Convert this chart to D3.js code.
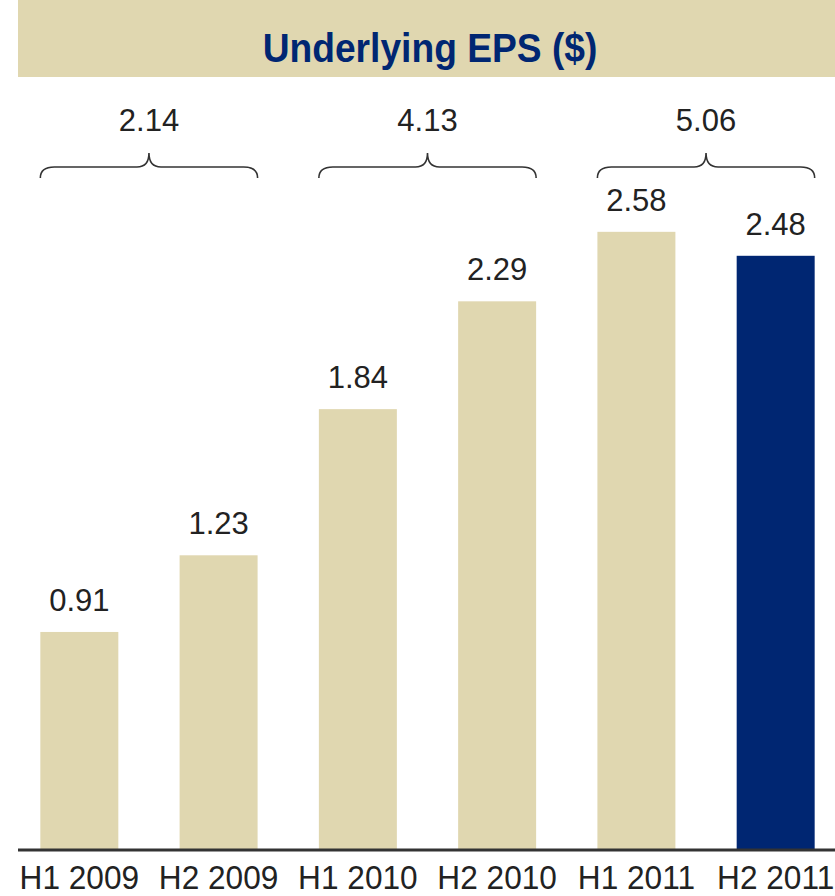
<!DOCTYPE html>
<html>
<head>
<meta charset="utf-8">
<script src="https://cdn.jsdelivr.net/npm/d3@7"></script>
<style>
  html, body { margin: 0; padding: 0; background: #fff; }
  svg { display: block; }
</style>
</head>
<body>
<script>
// Half-year underlying EPS
const categories = ["H1 2009", "H2 2009", "H1 2010", "H2 2010", "H1 2011", "H2 2011"];
const eps = [0.91, 1.23, 1.84, 2.29, 2.58, 2.48];
const highlighted = ["H2 2011"];
// Full-year totals spanning pairs of halves
const yearGroups = [
  { first: "H1 2009", last: "H2 2009", total: "2.14" },
  { first: "H1 2010", last: "H2 2010", total: "4.13" },
  { first: "H1 2011", last: "H2 2011", total: "5.06" }
];
const title = "Underlying EPS ($)";

const W = 835, H = 896;
const tan = "#e0d7b0", navy = "#002672", ink = "#222222";
const baseY = 850;
const font = "Liberation Sans, Arial, sans-serif";

const svg = d3.select("body").append("svg")
  .attr("width", W).attr("height", H);

// Title banner
svg.append("rect")
  .attr("x", 18).attr("y", 0).attr("width", W - 18).attr("height", 77)
  .attr("fill", tan);
svg.append("text")
  .attr("transform", "translate(430,62) scale(0.93,1)")
  .attr("text-anchor", "middle")
  .attr("font-family", font)
  .attr("font-weight", "bold")
  .attr("font-size", 40)
  .attr("fill", navy)
  .text(title);

const x = d3.scaleBand()
  .domain(categories)
  .range([20, W])
  .paddingInner(0.44)
  .paddingOuter(0.146);

const y = d3.scaleLinear()
  .domain([0, baseY / 239.6])
  .range([baseY, 0]);

const data = categories.map((c, i) => ({ cat: c, v: eps[i] }));

// Bars
svg.append("g").selectAll("rect")
  .data(data).join("rect")
  .attr("x", d => x(d.cat))
  .attr("y", d => y(d.v))
  .attr("width", x.bandwidth())
  .attr("height", d => y(0) - y(d.v))
  .attr("fill", d => highlighted.includes(d.cat) ? navy : tan);

// Value labels
svg.append("g").selectAll("text")
  .data(data).join("text")
  .attr("x", d => x(d.cat) + x.bandwidth() / 2)
  .attr("y", d => y(d.v) - 21)
  .attr("text-anchor", "middle")
  .attr("font-family", font)
  .attr("font-size", 31)
  .attr("fill", ink)
  .text(d => d.v.toFixed(2));

// Baseline axis with category labels
const axis = svg.append("g")
  .attr("transform", `translate(0,${baseY})`)
  .call(d3.axisBottom(x).tickSize(0).tickPadding(0));
axis.select(".domain")
  .attr("d", `M18,0H${W}`)
  .attr("stroke", "#333")
  .attr("stroke-width", 3);
axis.selectAll(".tick text")
  .attr("y", null).attr("dy", null)
  .attr("transform", "translate(0,39) scale(0.93,1)")
  .attr("font-family", font)
  .attr("font-size", 34)
  .attr("fill", ink);

// Curly braces over each year with full-year totals
function bracePath(x0, x1) {
  const yb = 178, yl = 167, yt = 153, r = 14, r2 = 12;
  const mid = (x0 + x1) / 2;
  return `M${x0},${yb}Q${x0},${yl} ${x0 + r},${yl}` +
         `L${mid - r2},${yl}Q${mid},${yl} ${mid},${yt}` +
         `Q${mid},${yl} ${mid + r2},${yl}` +
         `L${x1 - r},${yl}Q${x1},${yl} ${x1},${yb}`;
}
const braces = svg.append("g");
yearGroups.forEach(g => {
  const x0 = x(g.first), x1 = x(g.last) + x.bandwidth();
  braces.append("path")
    .attr("d", bracePath(x0, x1))
    .attr("fill", "none")
    .attr("stroke", "#333")
    .attr("stroke-width", 1.6);
  braces.append("text")
    .attr("x", (x0 + x1) / 2)
    .attr("y", 131)
    .attr("text-anchor", "middle")
    .attr("font-family", font)
    .attr("font-size", 31)
    .attr("fill", ink)
    .text(g.total);
});
</script>
</body>
</html>
